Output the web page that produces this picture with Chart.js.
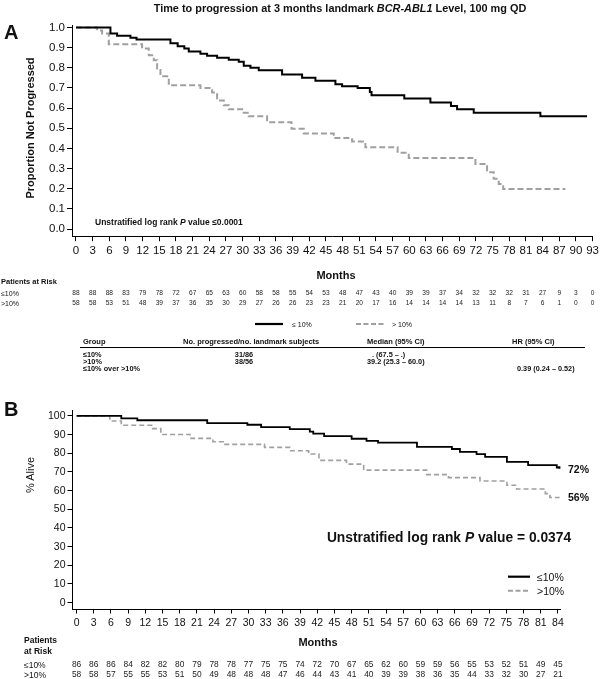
<!DOCTYPE html>
<html>
<head>
<meta charset="utf-8">
<script src="https://cdn.jsdelivr.net/npm/chart.js@4.4.1/dist/chart.umd.min.js"></script>
<style>
  html,body{margin:0;padding:0;background:#fff;}
  #wrap{position:relative;width:602px;height:679px;overflow:hidden;font-family:"Liberation Sans",Arial,sans-serif;color:#111;}
  canvas{position:absolute;left:0;}
  .t{position:absolute;white-space:nowrap;line-height:1;}
  .c{transform:translate(-50%,-50%);}
  .l{transform:translate(0,-50%);}
  .b{font-weight:bold;}
  svg{position:absolute;left:0;top:0;}
</style>
</head>
<body>
<div id="wrap">
  <canvas id="cA" width="602" height="310" style="top:0px;width:602px;height:310px;"></canvas>
  <canvas id="cB" width="602" height="299" style="top:380px;width:602px;height:299px;"></canvas>
  <svg width="602" height="679">
    <line x1="255" y1="324" x2="283" y2="324" stroke="#000" stroke-width="2.2"/>
    <line x1="356" y1="324" x2="385" y2="324" stroke="#a0a0a0" stroke-width="2.2" stroke-dasharray="5,2.5"/>
    <line x1="80" y1="347.5" x2="585" y2="347.5" stroke="#000" stroke-width="1"/>
    <line x1="508" y1="576.7" x2="530" y2="576.7" stroke="#000" stroke-width="2.2"/>
    <line x1="508" y1="590.7" x2="530" y2="590.7" stroke="#a0a0a0" stroke-width="2" stroke-dasharray="5,2.5"/>
  </svg>

  <div class="t c b" style="left:340px;top:8px;font-size:10.9px;">Time to progression at 3 months landmark <i>BCR-ABL1</i> Level, 100 mg QD</div>
  <div class="t l b" style="left:4px;top:32px;font-size:20px;">A</div>
  <div class="t c b" style="left:30px;top:128px;font-size:11px;transform:translate(-50%,-50%) rotate(-90deg);">Proportion Not Progressed</div>
  <div class="t l b" style="left:95px;top:221.7px;font-size:8.5px;">Unstratified log rank <i>P</i> value ≤0.0001</div>
  <div class="t c b" style="left:336px;top:275px;font-size:11px;">Months</div>
  <div class="t l b" style="left:1px;top:282px;font-size:7.5px;">Patients at Risk</div>
  <div class="t l" style="left:1px;top:293.3px;font-size:7px;">≤10%</div>
  <div class="t l" style="left:1px;top:303.3px;font-size:7px;">&gt;10%</div>

  <div class="t l" style="left:292px;top:324px;font-size:7px;">≤ 10%</div>
  <div class="t l" style="left:392px;top:324px;font-size:7px;">&gt; 10%</div>

  <div class="t l b" style="left:83px;top:341.5px;font-size:7.5px;">Group</div>
  <div class="t l b" style="left:183px;top:341.5px;font-size:7.5px;">No. progressed/no. landmark subjects</div>
  <div class="t l b" style="left:367px;top:341.5px;font-size:7.5px;">Median (95% CI)</div>
  <div class="t l b" style="left:512px;top:341.5px;font-size:7.5px;">HR (95% CI)</div>
  <div class="t l b" style="left:83px;top:354.5px;font-size:7.3px;">≤10%</div>
  <div class="t c b" style="left:244px;top:354.5px;font-size:7.3px;">31/86</div>
  <div class="t l b" style="left:372px;top:354.5px;font-size:7.3px;">. (67.5 – .)</div>
  <div class="t l b" style="left:83px;top:361.5px;font-size:7.3px;">&gt;10%</div>
  <div class="t c b" style="left:244px;top:361.5px;font-size:7.3px;">38/56</div>
  <div class="t l b" style="left:367px;top:361.5px;font-size:7.3px;">39.2 (25.3 – 60.0)</div>
  <div class="t l b" style="left:83px;top:368.5px;font-size:7.3px;">≤10% over &gt;10%</div>
  <div class="t l b" style="left:517px;top:368.5px;font-size:7.3px;">0.39 (0.24 – 0.52)</div>

  <div class="t l b" style="left:4px;top:409px;font-size:20px;">B</div>
  <div class="t c" style="left:30px;top:475px;font-size:11px;transform:translate(-50%,-50%) rotate(-90deg);">% Alive</div>
  <div class="t l b" style="left:568px;top:469px;font-size:10.5px;">72%</div>
  <div class="t l b" style="left:568px;top:497px;font-size:10.5px;">56%</div>
  <div class="t c b" style="left:449px;top:538px;font-size:13.8px;">Unstratified log rank <i>P</i> value = 0.0374</div>
  <div class="t l" style="left:537px;top:576.7px;font-size:10.5px;">≤10%</div>
  <div class="t l" style="left:537px;top:590.7px;font-size:10.5px;">&gt;10%</div>
  <div class="t c b" style="left:318px;top:642px;font-size:11px;">Months</div>
  <div class="t l b" style="left:24px;top:640px;font-size:8.5px;">Patients</div>
  <div class="t l b" style="left:24px;top:651px;font-size:8.5px;">at Risk</div>
  <div class="t l" style="left:24px;top:665px;font-size:8.5px;">≤10%</div>
  <div class="t l" style="left:24px;top:674.5px;font-size:8.5px;">&gt;10%</div>
</div>
<script>
// ---------- Panel A data ----------
const aMonthTicks = [0,3,6,9,12,15,18,21,24,27,30,33,36,39,42,45,48,51,54,57,60,63,66,69,72,75,78,81,84,87,90,93];
const aYTicks = [0,0.1,0.2,0.3,0.4,0.5,0.6,0.7,0.8,0.9,1.0];
const aLowTimes = [0,6.2,7.4,9.8,10.9,17.0,18.3,19.5,20.3,22.4,23.6,25.4,27.5,29.3,30.2,31.4,32.9,37.1,40.7,43.1,46.7,47.9,50.7,52.9,53.2,59.1,63.8,67.5,68.6,71.6,83.6,92.0];
const aLowSurv  = [1.0,0.97,0.959,0.949,0.94,0.922,0.907,0.895,0.88,0.87,0.86,0.85,0.84,0.83,0.81,0.80,0.787,0.766,0.75,0.735,0.718,0.708,0.70,0.68,0.663,0.647,0.627,0.61,0.594,0.577,0.559,0.559];
const aHighTimes = [0,3.8,4.7,5.9,11.9,13.1,14.0,14.6,15.2,16.7,22.4,24.5,25.4,26.6,27.5,29.9,31.1,34.4,38.8,41.0,46.4,49.7,52.1,57.9,59.9,71.9,74.0,75.2,76.1,76.9,88.1];
const aHighSurv  = [1.0,0.985,0.97,0.917,0.895,0.862,0.837,0.796,0.758,0.713,0.70,0.677,0.638,0.614,0.594,0.577,0.56,0.53,0.497,0.474,0.451,0.434,0.406,0.378,0.352,0.323,0.282,0.249,0.224,0.199,0.199];
const aRiskLow  = [88,88,88,83,79,78,72,67,65,63,60,58,58,55,54,53,48,47,43,40,39,39,37,34,32,32,32,31,27,9,3,0];
const aRiskHigh = [58,58,53,51,48,39,37,36,35,30,29,27,26,26,23,23,21,20,17,16,14,14,14,14,13,11,8,7,6,1,0,0];

// ---------- Panel B data ----------
const bMonthTicks = [0,3,6,9,12,15,18,21,24,27,30,33,36,39,42,45,48,51,54,57,60,63,66,69,72,75,78,81,84];
const bYTicks = [0,10,20,30,40,50,60,70,80,90,100];
const bLowTimes = [0,7.8,10.6,22.8,29.8,32.2,37.2,40.7,41.3,43.2,48.0,50.6,52.6,59.4,65.5,66.9,69.8,71.3,75.1,78.8,83.8,84.3];
const bLowSurv  = [100,98.7,97.7,96.2,95.3,94.0,93.0,91.6,90.5,89.2,87.8,86.7,85.7,83.5,82.3,80.8,79.6,78.1,75.4,73.7,72.4,72.4];
const bHighTimes = [0,5.8,7.8,13.1,14.7,19.8,23.8,25.6,32.8,37.2,40.5,42.3,47.1,50.1,61.1,64.9,70.4,75.1,76.8,81.8,82.6,84.3];
const bHighSurv  = [100,97.3,95.0,93.2,90.1,88.0,86.2,84.8,83.2,81.4,79.6,76.2,74.2,71.0,68.6,67.0,65.2,62.9,60.9,58.4,56.3,56.3];
const bRiskLow  = [86,86,86,84,82,82,80,79,78,78,77,75,75,74,72,70,67,65,62,60,59,59,56,55,53,52,51,49,45];
const bRiskHigh = [58,58,57,55,55,53,51,50,49,48,48,48,47,46,44,43,41,40,39,39,38,36,35,44,33,32,30,27,21];

const FONT = "'Liberation Sans', Arial, sans-serif";
const pts = (t, s) => t.map((x, i) => ({x: x, y: s[i]}));

function riskPlugin(rows, ticks, fontSize, canvasTop) {
  return {
    id: 'riskRows',
    afterDraw(chart) {
      const ctx = chart.ctx, xs = chart.scales.x;
      ctx.save();
      ctx.font = fontSize + 'px ' + FONT;
      ctx.fillStyle = '#222';
      ctx.textAlign = 'center';
      ctx.textBaseline = 'middle';
      rows.forEach(r => {
        r.values.forEach((v, i) => {
          ctx.fillText(String(v), xs.getPixelForValue(ticks[i]), r.y - canvasTop);
        });
      });
      ctx.restore();
    }
  };
}

function axisOpts(cfg) {
  return {
    type: 'linear',
    min: cfg.min, max: cfg.max,
    afterBuildTicks: s => { s.ticks = cfg.ticks.map(v => ({value: v})); },
    afterFit: s => { if (cfg.h !== undefined) s.height = cfg.h; if (cfg.w !== undefined) s.width = cfg.w; },
    ticks: {
      autoSkip: false, maxRotation: 0, minRotation: 0, padding: cfg.pad,
      color: '#111', font: {family: FONT, size: cfg.fs},
      callback: cfg.cb || (v => String(v))
    },
    grid: {drawOnChartArea: false, drawTicks: true, tickLength: cfg.tl, color: '#000', lineWidth: 1},
    border: {display: true, color: '#000', width: 1}
  };
}

// Panel A chart
new Chart(document.getElementById('cA'), {
  type: 'line',
  data: {
    datasets: [
      {data: pts(aLowTimes, aLowSurv), borderColor: '#000', borderWidth: 2, stepped: 'before', pointRadius: 0, fill: false},
      {data: pts(aHighTimes, aHighSurv), borderColor: '#a0a0a0', borderWidth: 2, borderDash: [6, 3], stepped: 'before', pointRadius: 0, fill: false}
    ]
  },
  options: {
    responsive: false, animation: false,
    layout: {padding: {top: 25, left: 0, right: 7, bottom: 0}},
    plugins: {legend: {display: false}, tooltip: {enabled: false}},
    scales: {
      x: axisOpts({min: -0.72, max: 93, ticks: aMonthTicks, h: 310 - 236.7, fs: 11.5, tl: 4.5, pad: 3}),
      y: axisOpts({min: -0.038, max: 1.012, ticks: aYTicks, w: 72, fs: 11.5, tl: 5, pad: 2, cb: v => Number(v).toFixed(1)})
    }
  },
  plugins: [riskPlugin([{values: aRiskLow, y: 293.3}, {values: aRiskHigh, y: 303.3}], aMonthTicks, 6.6, 0)]
});

// Panel B chart
new Chart(document.getElementById('cB'), {
  type: 'line',
  data: {
    datasets: [
      {data: pts(bLowTimes, bLowSurv), borderColor: '#000', borderWidth: 1.8, stepped: 'before', fill: false,
       pointRadius: c => (c.dataIndex === bLowTimes.length - 1 ? 1.6 : 0), pointStyle: 'rect', pointBackgroundColor: '#000', pointBorderWidth: 0},
      {data: pts(bHighTimes, bHighSurv), borderColor: '#a0a0a0', borderWidth: 1.6, borderDash: [5, 3], stepped: 'before', pointRadius: 0, fill: false}
    ]
  },
  options: {
    responsive: false, animation: false,
    layout: {padding: {top: 30, left: 0, right: 41.5, bottom: 0}},
    plugins: {legend: {display: false}, tooltip: {enabled: false}},
    scales: {
      x: axisOpts({min: -0.8, max: 84.45, ticks: bMonthTicks, h: 70, fs: 10.5, tl: 4.5, pad: 3}),
      y: axisOpts({min: -3.4, max: 103.2, ticks: bYTicks, w: 72, fs: 10.5, tl: 4.5, pad: 2})
    }
  },
  plugins: [riskPlugin([{values: bRiskLow, y: 665}, {values: bRiskHigh, y: 674.5}], bMonthTicks, 8.4, 380)]
});
</script>
</body>
</html>
